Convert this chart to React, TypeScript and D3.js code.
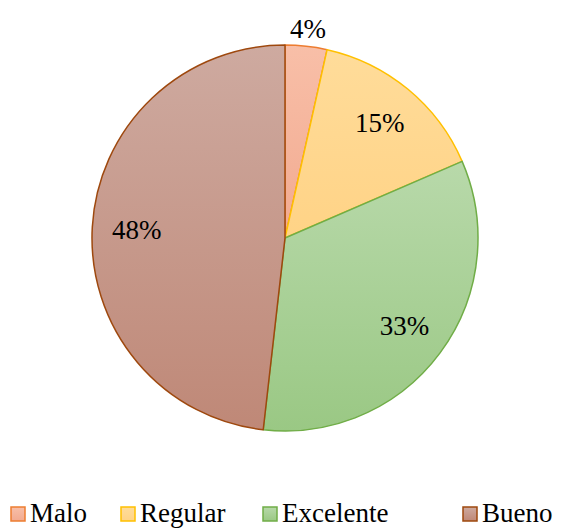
import { arc, pie } from 'd3';

const categories = ['Malo', 'Regular', 'Excelente', 'Bueno'];
const values = [3.5, 15, 33.3, 48.2];
const labels = ['4%', '15%', '33%', '48%'];
const fillTop = ['#F8BFA8', '#FFDC9A', '#B8D9AA', '#CEAAA0'];
const fillBottom = ['#F2AA90', '#FFD386', '#9AC884', '#BF8877'];
const strokes = ['#ED7D31', '#FFC000', '#70AD47', '#9E480E'];

const width = 572;
const height = 531;
const cx = 285;
const cy = 238;
const radius = 193;
const serif = "'Liberation Serif', 'Times New Roman', serif";

const legendX = [10, 120, 262, 462];

export default function App() {
  const slices = pie<number>().sort(null).value(v => v)(values);
  const sliceArc = arc<any>().innerRadius(0).outerRadius(radius);
  const insideArc = arc<any>().innerRadius(radius * 0.77).outerRadius(radius * 0.77);
  const outsideArc = arc<any>().innerRadius(radius * 1.09).outerRadius(radius * 1.09);

  const textStyle = {
    position: 'absolute' as const,
    fontFamily: serif,
    fontSize: 27,
    lineHeight: '27px',
    color: '#000',
    whiteSpace: 'nowrap' as const,
  };

  return (
    <div style={{ position: 'absolute', left: 0, top: 0, width, height, overflow: 'hidden', fontFamily: serif }}>
      <svg width={width} height={height} style={{ position: 'absolute', left: 0, top: 0 }}>
        <defs>
          {categories.map((c, i) => (
            <linearGradient key={c} id={`grad-${i}`} x1="0" x2="0" y1="0" y2="1">
              <stop offset="0%" stopColor={fillTop[i]} />
              <stop offset="100%" stopColor={fillBottom[i]} />
            </linearGradient>
          ))}
        </defs>
        <g transform={`translate(${cx},${cy})`}>
          {slices.map((s, i) => (
            <path key={categories[i]} d={sliceArc(s) ?? ''} fill={`url(#grad-${i})`} stroke={strokes[i]} strokeWidth={1.5} strokeLinejoin="round" />
          ))}
        </g>
        {categories.map((c, i) => (
          <rect key={c} x={legendX[i] + 1} y={507} width={14} height={14} fill={`url(#grad-${i})`} stroke={strokes[i]} strokeWidth={1.5} />
        ))}
      </svg>
      {slices.map((s, i) => {
        const [x, y] = (i === 0 ? outsideArc : insideArc).centroid(s);
        return (
          <span key={labels[i]} style={{ ...textStyle, left: cx + x, top: cy + y, transform: 'translate(-50%, -50%)' }}>
            {labels[i]}
          </span>
        );
      })}
      {categories.map((c, i) => (
        <span key={c} style={{ ...textStyle, left: legendX[i] + 20, top: 500 }}>{c}</span>
      ))}
    </div>
  );
}
